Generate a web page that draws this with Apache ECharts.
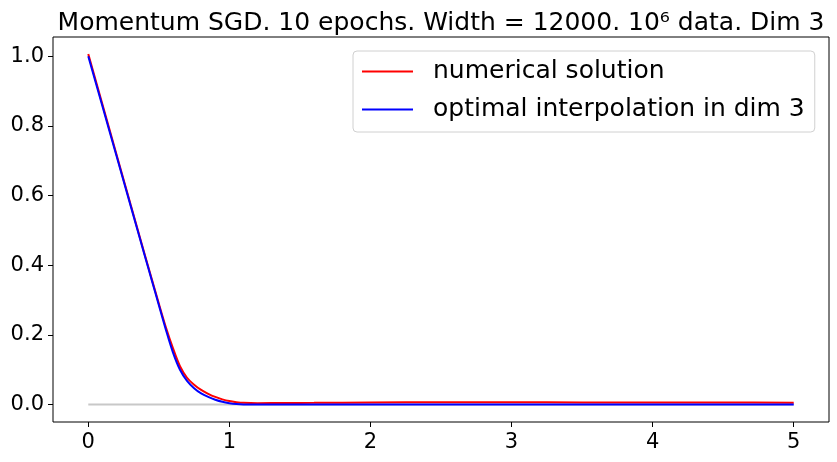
<!DOCTYPE html>
<html>
<head>
<meta charset="utf-8">
<script src="https://cdn.jsdelivr.net/npm/echarts@6/dist/echarts.min.js"></script>
<style>html,body{margin:0;padding:0;background:#fff;}#c{width:837px;height:462px;}</style>
</head>
<body>
<div id="c"></div>
<script>
const titleText = 'Momentum SGD. 10 epochs. Width = 12000. 10\u2076 data. Dim 3';
const seriesNames = ['numerical solution', 'optimal interpolation in dim 3'];
const xTicks = [0, 1, 2, 3, 4, 5];
const yTicks = [0, 0.2, 0.4, 0.6, 0.8, 1.0];

const xsRed = [0, 0.1, 0.2, 0.3, 0.4, 0.45, 0.5, 0.55, 0.6, 0.65, 0.7, 0.75, 0.8, 0.85, 0.9, 0.95, 1.0, 1.05, 1.1, 1.2, 1.4, 1.6, 2.0, 2.5, 3.0, 3.5, 4.0, 4.5, 5.0];
const numerical = [1.006, 0.862, 0.718, 0.574, 0.431, 0.360, 0.290, 0.222, 0.162, 0.110, 0.077, 0.057, 0.042, 0.031, 0.022, 0.015, 0.010, 0.007, 0.005, 0.004, 0.0045, 0.005, 0.006, 0.0065, 0.0065, 0.0062, 0.006, 0.0058, 0.0055];

const xsBlue = [0, 0.1, 0.2, 0.3, 0.4, 0.45, 0.5, 0.55, 0.6, 0.65, 0.7, 0.75, 0.8, 0.85, 0.9, 0.95, 1.0, 1.05, 1.1, 1.2, 2.0, 3.0, 4.0, 5.0];
const optimal = [1.000, 0.857, 0.714, 0.571, 0.428, 0.357, 0.286, 0.215, 0.150, 0.100, 0.068, 0.047, 0.032, 0.022, 0.014, 0.008, 0.004, 0.0015, 0.0003, 0, 0, 0, 0, 0];

const xsZero = [0, 5];
const zeroLine = [0, 0];

const pairs = (xs, ys) => xs.map((x, i) => [x, ys[i]]);

const chart = echarts.init(document.getElementById('c'), null, {renderer: 'canvas'});
const FONT = 'DejaVu Sans';
chart.setOption({
  animation: false,
  backgroundColor: '#fff',
  title: {
    text: titleText,
    left: 436,
    top: 6,
    textAlign: 'center',
    textStyle: {fontFamily: FONT, fontSize: 25, fontWeight: 'normal', color: '#000'}
  },
  legend: {
    data: seriesNames,
    orient: 'vertical',
    left: 353,
    top: 51,
    padding: [8, 10, 10, 9],
    itemGap: 13,
    itemWidth: 51,
    itemHeight: 2,
    icon: 'rect',
    borderColor: '#d0d0d0',
    borderWidth: 1,
    borderRadius: 4,
    backgroundColor: 'rgba(255,255,255,0.8)',
    textStyle: {fontFamily: FONT, fontSize: 25, color: '#000', lineHeight: 25, padding: [0, 0, 0, 15]}
  },
  grid: {
    left: 53, right: 8, top: 37, bottom: 40,
    show: true, borderColor: '#000', borderWidth: 1, containLabel: false
  },
  xAxis: {
    type: 'value',
    min: -0.25, max: 5.25,
    axisLine: {show: false, onZero: false},
    splitLine: {show: false},
    axisTick: {show: true, inside: false, length: 5, lineStyle: {color: '#000'}, customValues: xTicks},
    axisLabel: {show: true, margin: 10, fontFamily: FONT, fontSize: 21, color: '#000', customValues: xTicks, formatter: v => String(v)}
  },
  yAxis: {
    type: 'value',
    min: -0.05, max: 1.055,
    axisLine: {show: false, onZero: false},
    splitLine: {show: false},
    axisTick: {show: true, inside: false, length: 5, lineStyle: {color: '#000'}, customValues: yTicks},
    axisLabel: {show: true, margin: 9, fontFamily: FONT, fontSize: 21, color: '#000', customValues: yTicks, formatter: v => v.toFixed(1)}
  },
  series: [
    {
      name: 'zero', type: 'line', data: pairs(xsZero, zeroLine),
      showSymbol: false, symbol: 'none', silent: true,
      lineStyle: {color: '#c8c8c8', width: 2}, z: 1
    },
    {
      name: seriesNames[0], type: 'line', data: pairs(xsRed, numerical),
      showSymbol: false, symbol: 'none', smooth: 0.3,
      itemStyle: {color: '#ff0000'},
      lineStyle: {color: '#ff0000', width: 2}, z: 2
    },
    {
      name: seriesNames[1], type: 'line', data: pairs(xsBlue, optimal),
      showSymbol: false, symbol: 'none', smooth: 0.3,
      itemStyle: {color: '#0000ff'},
      lineStyle: {color: '#0000ff', width: 2}, z: 3
    }
  ]
});
</script>
</body>
</html>
